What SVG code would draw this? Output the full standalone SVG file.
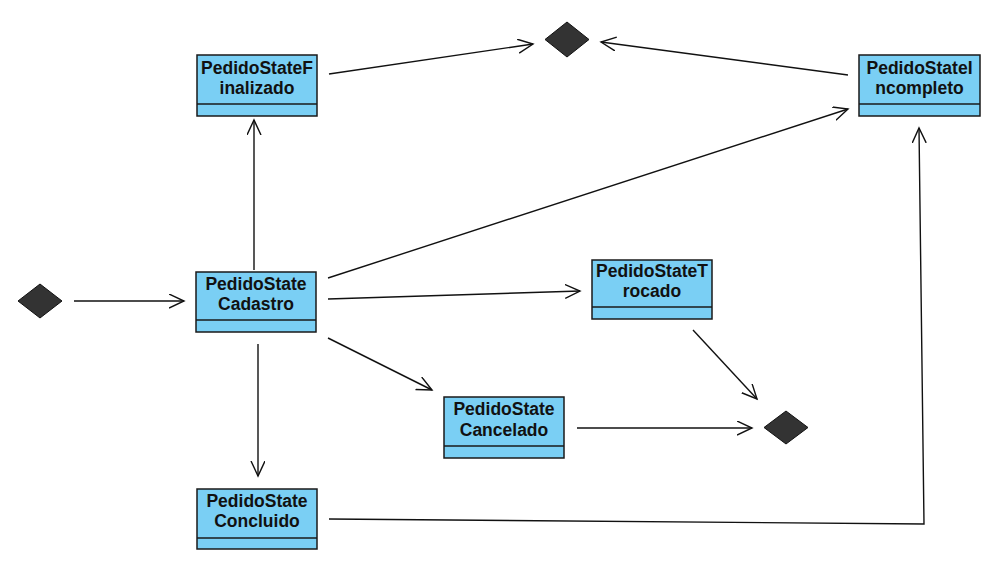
<svg xmlns="http://www.w3.org/2000/svg" width="987" height="562" viewBox="0 0 987 562">
  <style>
    .box { fill: #7ACFF4; stroke: #1a1a1a; stroke-width: 1.5; }
    .div { stroke: #1a1a1a; stroke-width: 1.5; fill: none; }
    .lbl { font-family: "Liberation Sans", Arial, sans-serif; font-weight: bold; font-size: 17.5px; fill: #111; text-anchor: middle; }
    .pseudo { fill: #333333; stroke: #111; stroke-width: 1; }
    .edge { fill: none; stroke: #111; stroke-width: 1.4; marker-end: url(#open); }
  </style>
  <defs>
    <marker id="open" markerWidth="18" markerHeight="16" refX="15" refY="7" orient="auto" markerUnits="userSpaceOnUse">
      <path d="M0,0 L15,7 L0,14" fill="none" stroke="#111" stroke-width="1.4"/>
    </marker>
  </defs>

  <rect width="987" height="562" fill="#ffffff"/>

  <!-- pseudo states -->
  <g id="initial">
    <polygon class="pseudo" points="18,301 40,284 62,301 40,318"/>
  </g>
  <g id="final-top">
    <polygon class="pseudo" points="545,39.5 567,22 589,39.5 567,57"/>
  </g>
  <g id="final-right">
    <polygon class="pseudo" points="764,427.5 786,411 808,427.5 786,444"/>
  </g>

  <!-- states -->
  <g id="finalizado">
    <rect class="box" x="197" y="55" width="120" height="61"/>
    <line class="div" x1="197" y1="104" x2="317" y2="104"/>
    <text class="lbl" x="257" y="74">PedidoStateF</text>
    <text class="lbl" x="257" y="94">inalizado</text>
  </g>
  <g id="incompleto">
    <rect class="box" x="859" y="55" width="121" height="61"/>
    <line class="div" x1="859" y1="104" x2="980" y2="104"/>
    <text class="lbl" x="919.5" y="74">PedidoStateI</text>
    <text class="lbl" x="919.5" y="94">ncompleto</text>
  </g>
  <g id="cadastro">
    <rect class="box" x="196" y="272" width="120" height="60"/>
    <line class="div" x1="196" y1="320" x2="316" y2="320"/>
    <text class="lbl" x="256" y="290">PedidoState</text>
    <text class="lbl" x="256" y="310">Cadastro</text>
  </g>
  <g id="trocado">
    <rect class="box" x="592" y="260" width="120" height="59"/>
    <line class="div" x1="592" y1="307" x2="712" y2="307"/>
    <text class="lbl" x="652" y="277">PedidoStateT</text>
    <text class="lbl" x="652" y="297">rocado</text>
  </g>
  <g id="cancelado">
    <rect class="box" x="444" y="397" width="120" height="61"/>
    <line class="div" x1="444" y1="446" x2="564" y2="446"/>
    <text class="lbl" x="504" y="415">PedidoState</text>
    <text class="lbl" x="504" y="436">Cancelado</text>
  </g>
  <g id="concluido">
    <rect class="box" x="197" y="489" width="120" height="60"/>
    <line class="div" x1="197" y1="538" x2="317" y2="538"/>
    <text class="lbl" x="257" y="507">PedidoState</text>
    <text class="lbl" x="257" y="527">Concluido</text>
  </g>

  <!-- transitions -->
  <g id="connectors">
    <line class="edge" x1="74" y1="301" x2="184" y2="301"/>
    <line class="edge" x1="254" y1="270" x2="254" y2="120"/>
    <line class="edge" x1="329" y1="74" x2="533" y2="44"/>
    <line class="edge" x1="848" y1="75" x2="601" y2="42"/>
    <line class="edge" x1="328" y1="278" x2="848" y2="109"/>
    <line class="edge" x1="328" y1="299" x2="580" y2="291"/>
    <line class="edge" x1="328" y1="338" x2="432" y2="390"/>
    <line class="edge" x1="258" y1="344" x2="258" y2="476"/>
    <line class="edge" x1="693" y1="330" x2="757" y2="399"/>
    <line class="edge" x1="577" y1="428" x2="752" y2="428"/>
    <polyline class="edge" points="329,519 924,524 919,128"/>
  </g>
</svg>
